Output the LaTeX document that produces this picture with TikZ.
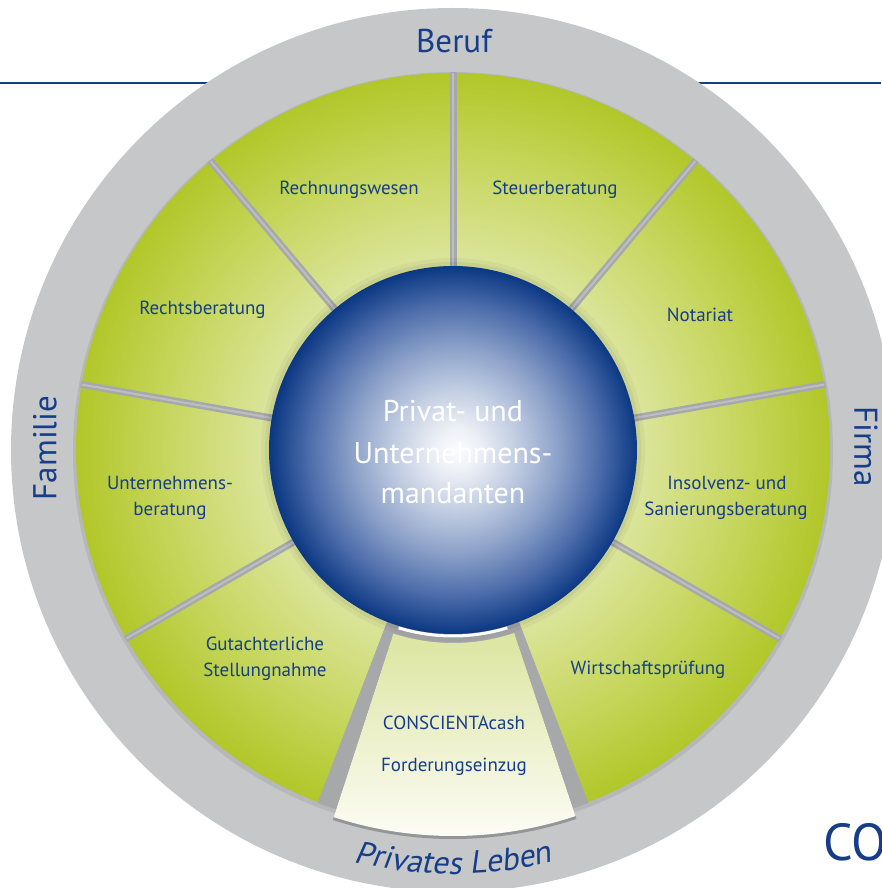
\documentclass[tikz,border=0pt]{standalone}
\usepackage{fontspec}
\setmainfont{PT Sans}
\newfontfamily\slantfont[FakeSlant=0.2]{PT Sans}
\usetikzlibrary{decorations.text}
\definecolor{navy}{HTML}{163E88}
\definecolor{ringgray}{HTML}{C6C7C9}
\definecolor{gapgray}{HTML}{A7A8AA}
\definecolor{gaplight}{HTML}{BDBEC0}
\definecolor{gpale}{HTML}{DCE59E}
\definecolor{gmid}{HTML}{CFDC76}
\definecolor{gdeep}{HTML}{C3D456}
\definecolor{glime}{HTML}{B1C729}
\definecolor{cpale}{HTML}{DCE5A0}
\definecolor{cwhite}{HTML}{FDFDF8}
\definecolor{b0}{HTML}{FBFCFE}
\definecolor{b1}{HTML}{EDF0F6}
\definecolor{b2}{HTML}{C4CFE3}
\definecolor{b3}{HTML}{8CA1C9}
\definecolor{b4}{HTML}{4A6AA9}
\definecolor{b5}{HTML}{0B3883}
\pgfdeclareradialshading{greendisk}{\pgfpoint{0bp}{0bp}}{color(0bp)=(gpale); color(12.2bp)=(gpale); color(16.5bp)=(gmid); color(20bp)=(gdeep); color(25bp)=(glime); color(30bp)=(glime)}
\pgfdeclareradialshading{bluesphere}{\pgfpoint{0.5bp}{0bp}}{color(0bp)=(b0); color(3bp)=(b1); color(8bp)=(b2); color(14bp)=(b3); color(20bp)=(b4); color(25bp)=(b5); color(30bp)=(b5)}
\begin{document}
\begin{tikzpicture}[x=1pt,y=1pt,
  lbl/.style={text=navy, font=\fontsize{19}{19}\selectfont, anchor=base, inner sep=0pt},
  ctr/.style={text=white, font=\fontsize{30}{30}\selectfont, anchor=base, inner sep=0pt},
  ringlbl/.style={text=navy, font=\fontsize{33}{33}\selectfont, inner sep=0pt},
  sep/.style={line width=7pt, draw=gapgray},
  sepin/.style={line width=2pt, draw=gaplight}]
\useasboundingbox (-453,-438) rectangle (428,450);
% top rule
\draw[navy, line width=1.3pt] (-453,367) -- (428,367);
% outer grey ring
\fill[ringgray] (0,0) circle[radius=442];
% shadow of the green disk
\fill[black, opacity=0.08] (0,-2) circle[radius=380];
% green disk
\shade[shading=greendisk] (0,0) circle[radius=377];
% separators
\foreach \a in {90,50,10,-30,-150,170,130}{
  \draw[sep] (\a:182) -- (\a:378);
  \draw[sepin] (\a:182) -- (\a:377);
}
% grey sector behind CONSCIENTA wedge
\fill[gapgray] (-111:180) -- (-111:378) arc[start angle=-111, end angle=-69, radius=378] -- (-69:180) arc[start angle=-69, end angle=-111, radius=180] -- cycle;
% shadow of CONSCIENTA wedge
\fill[black, opacity=0.25] (-108:196) -- (-108:389) arc[start angle=-108, end angle=-71.5, radius=389] -- (-71.5:196) arc[start angle=-71.5, end angle=-108, radius=196] -- cycle;
% CONSCIENTA wedge
\shade[top color=cpale, bottom color=cwhite] (-108:193) -- (-108:386) arc[start angle=-108, end angle=-71.5, radius=386] -- (-71.5:193) arc[start angle=-71.5, end angle=-108, radius=193] -- cycle;
% shadow around the sphere
\fill[black, opacity=0.04] (0,0) circle[radius=192];
\fill[black, opacity=0.05] (0,0) circle[radius=188];
% white crescent
\draw[white, line width=3pt] (-107:186) arc[start angle=-107, end angle=-73, radius=186];
% central sphere
\shade[shading=bluesphere] (0,0) circle[radius=184];
% centre text
\node[ctr] (c1) at (0,28) {Privat- und};
\node[ctr] (c2) at (0,-13) {Unternehmens-};
\node[ctr] (c3) at (0,-53) {mandanten};
% segment labels
\node[lbl] (rw) at (-104,255) {Rechnungswesen};
\node[lbl] (sb) at (102,255) {Steuerberatung};
\node[lbl] (no) at (247,128) {Notariat};
\node[lbl] (rb) at (-250.5,135) {Rechtsberatung};
\node[lbl] (ub1) at (-283,-39) {Unternehmens-};
\node[lbl] (ub2) at (-283,-65) {beratung};
\node[lbl] (is1) at (274,-40) {Insolvenz- und};
\node[lbl] (is2) at (273,-65) {Sanierungsberatung};
\node[lbl] (gs1) at (-188,-200) {Gutachterliche};
\node[lbl] (gs2) at (-188,-226) {Stellungnahme};
\node[lbl] (wp) at (195,-224) {Wirtschaftsprüfung};
\node[lbl] (cc1) at (1,-279) {CONSCIENTAcash};
\node[lbl] (cc2) at (1,-321) {Forderungseinzug};
% ring labels
\node[ringlbl, anchor=base] (beruf) at (1,397) {Beruf};
\node[ringlbl, rotate=-90] (firma) at (413,3) {Firma};
\node[ringlbl, rotate=90] (familie) at (-408,2) {Familie};
\path[decorate, decoration={text along path, text align=center,
  text={|\slantfont\fontsize{32}{32}\selectfont\color{navy}|Privates Leben}}]
  (-116:424) arc[start angle=-116, end angle=-64, radius=424];
% logo fragment
\node[text=navy, font=\fontsize{52}{52}\selectfont, anchor=base west, inner sep=0pt] (co) at (370,-410) {CO};
\end{tikzpicture}
\end{document}
